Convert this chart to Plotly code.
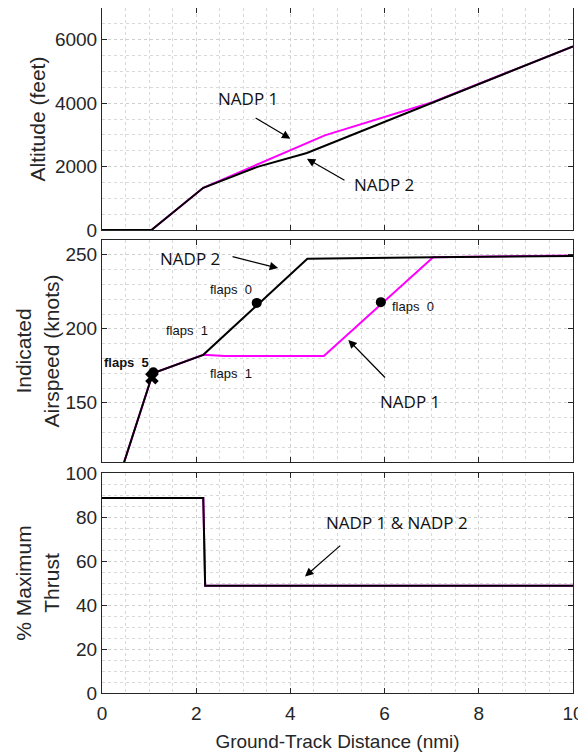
import plotly.graph_objects as go

# ---------------- data ----------------
# Altitude (feet) vs ground-track distance (nmi)
alt_x_nadp1 = [0, 1.05, 2.15, 4.73, 7.03, 10]
alt_y_nadp1 = [0, 0, 1330, 2985, 4035, 5790]
alt_x_nadp2 = [0, 1.05, 2.15, 3.3, 4.35, 10]
alt_y_nadp2 = [0, 0, 1330, 1990, 2430, 5790]

# Indicated airspeed (knots)
spd_x_nadp1 = [0.40, 0.47, 0.665, 0.84, 1.0, 1.08, 2.15, 2.6, 4.71, 7.03, 10]
spd_y_nadp1 = [103, 110, 129.3, 147.4, 163, 170, 182.4, 181.6, 181.6, 248.3, 249.6]
spd_x_nadp2 = [0.40, 0.47, 0.665, 0.84, 1.0, 1.08, 2.15, 4.36, 7.03, 10]
spd_y_nadp2 = [103, 110, 129.3, 147.4, 163, 170, 182.4, 247.3, 248.3, 249.2]

# flap-change points
flaps0_x = [3.285, 5.92]
flaps0_y = [217.5, 218.0]
flaps5_circle = (1.09, 170.6)
flaps5_cross = (1.06, 167.0)

# % maximum thrust
thr_x = [0, 2.15, 2.19, 10]
thr_y_nadp1 = [88.6, 88.6, 48.7, 48.7]
thr_y_nadp2 = [88.6, 88.6, 48.7, 48.7]

x_ticks = [0, 2, 4, 6, 8, 10]

MAG = "#ff00ff"
BLK = "#000000"
AX = "#262626"
FONT = "Liberation Sans, Arial, sans-serif"
NFONT = "Open Sans, sans-serif"

fig = go.Figure()

def add_line(x, y, color, xa, ya):
    fig.add_trace(go.Scatter(x=x, y=y, mode="lines", line=dict(color=color, width=2),
                             xaxis=xa, yaxis=ya, showlegend=False, hoverinfo="skip"))

add_line(alt_x_nadp1, alt_y_nadp1, MAG, "x", "y")
add_line(alt_x_nadp2, alt_y_nadp2, BLK, "x", "y")
add_line(spd_x_nadp1, spd_y_nadp1, MAG, "x2", "y2")
add_line(spd_x_nadp2, spd_y_nadp2, BLK, "x2", "y2")
add_line(thr_x, thr_y_nadp1, MAG, "x3", "y3")
add_line(thr_x, thr_y_nadp2, BLK, "x3", "y3")

fig.add_trace(go.Scatter(x=flaps0_x, y=flaps0_y, mode="markers",
                         marker=dict(color=BLK, size=10), xaxis="x2", yaxis="y2",
                         showlegend=False, hoverinfo="skip"))
fig.add_trace(go.Scatter(x=[flaps5_circle[0]], y=[flaps5_circle[1]], mode="markers",
                         marker=dict(color=BLK, size=10), xaxis="x2", yaxis="y2",
                         showlegend=False, hoverinfo="skip"))
fig.add_trace(go.Scatter(x=[flaps5_cross[0]], y=[flaps5_cross[1]], mode="markers",
                         marker=dict(color=BLK, size=12, symbol="x"), xaxis="x2", yaxis="y2",
                         showlegend=False, hoverinfo="skip"))

common_x = dict(range=[0, 10], tickvals=x_ticks, ticks="inside", ticklen=5, tickcolor=AX,
                showline=True, linecolor=AX, linewidth=1, mirror="allticks",
                showgrid=True, gridcolor="#cfcfcf", griddash="dot", gridwidth=1,
                minor=dict(dtick=0.5, showgrid=True, gridcolor="#d9d9d9", griddash="dot", gridwidth=1),
                zeroline=False, tickfont=dict(family=FONT, size=19, color=AX), automargin=False)
common_y = dict(ticks="inside", ticklen=5, tickcolor=AX,
                showline=True, linecolor=AX, linewidth=1, mirror="allticks",
                showgrid=True, gridcolor="#cfcfcf", griddash="dot", gridwidth=1,
                zeroline=False, tickfont=dict(family=FONT, size=19, color=AX), automargin=False)

# page has an 8px body margin: figure occupies page pixels 8..586 x 8..754
top, bot = 8, 693
ph = bot - top
def dom(t, b):
    return [(bot - b) / ph, (bot - t) / ph]

fig.update_layout(
    width=578, height=746,
    margin=dict(l=94, r=13, t=0, b=61),
    paper_bgcolor="white", plot_bgcolor="white",
    showlegend=False,
    xaxis=dict(common_x, anchor="y", showticklabels=False),
    xaxis2=dict(common_x, anchor="y2", matches="x", showticklabels=False),
    xaxis3=dict(common_x, anchor="y3", matches="x", ticklabelstandoff=3,
                title=dict(text="Ground-Track Distance (nmi)", font=dict(family=FONT, size=19, color=AX), standoff=11)),
    yaxis=dict(common_y, domain=dom(8, 230), range=[0, 7000], tickvals=[0, 2000, 4000, 6000],
               minor=dict(dtick=500, showgrid=True, gridcolor="#d9d9d9", griddash="dot"),
               title=dict(text="Altitude (feet)", font=dict(family=FONT, size=21, color=AX), standoff=3)),
    yaxis2=dict(common_y, domain=dom(240, 462), range=[110, 260], tickvals=[150, 200, 250],
                minor=dict(dtick=10, showgrid=True, gridcolor="#d9d9d9", griddash="dot"),
                title=dict(text="Indicated<br>Airspeed (knots)", font=dict(family=FONT, size=21, color=AX), standoff=0)),
    yaxis3=dict(common_y, domain=dom(473, 693), range=[0, 100], tickvals=[0, 20, 40, 60, 80, 100],
                minor=dict(dtick=5, showgrid=True, gridcolor="#d9d9d9", griddash="dot"),
                title=dict(text="% Maximum<br>Thrust", font=dict(family=FONT, size=21, color=AX), standoff=0)),
)

def label(text, x, y, xa, ya, size=17, family=NFONT):
    fig.add_annotation(text=text, x=x, y=y, xref=xa, yref=ya, showarrow=False,
                       font=dict(family=family, size=size, color="#111111"))

def arrow(x0, y0, x1, y1, xa, ya):
    fig.add_annotation(text="", x=x1, y=y1, ax=x0, ay=y0, xref=xa, yref=ya,
                       axref=xa, ayref=ya, showarrow=True, arrowhead=2, arrowsize=1.4,
                       arrowwidth=1.2, arrowcolor="#000000", standoff=0, startstandoff=0)

# Altitude panel
label("NADP 1", 3.09, 4137, "x", "y")
arrow(3.23, 3560, 4.0, 2880, "x", "y")
label("NADP 2", 5.98, 1440, "x", "y")
arrow(5.18, 1540, 4.35, 2250, "x", "y")

# Airspeed panel
label("NADP 2", 1.864, 247.5, "x2", "y2")
arrow(2.74, 249, 3.74, 241, "x2", "y2")
label("NADP 1", 6.53, 150.6, "x2", "y2")
arrow(6.04, 166.1, 5.23, 192.5, "x2", "y2")
label("flaps\u00a0\u00a00", 2.73, 226.6, "x2", "y2", size=13, family=FONT)
label("flaps\u00a0\u00a01", 1.815, 199, "x2", "y2", size=13, family=FONT)
label("<b>flaps\u00a0\u00a05</b>", 0.516, 177.2, "x2", "y2", size=13, family=FONT)
label("flaps\u00a0\u00a01", 2.735, 169.7, "x2", "y2", size=13, family=FONT)
label("flaps\u00a0\u00a00", 6.6, 214.9, "x2", "y2", size=13, family=FONT)

# Thrust panel
label("NADP 1 &amp; NADP 2", 6.27, 77.5, "x3", "y3")
arrow(5.09, 67.6, 4.31, 53, "x3", "y3")

fig.write_html("out.html")
